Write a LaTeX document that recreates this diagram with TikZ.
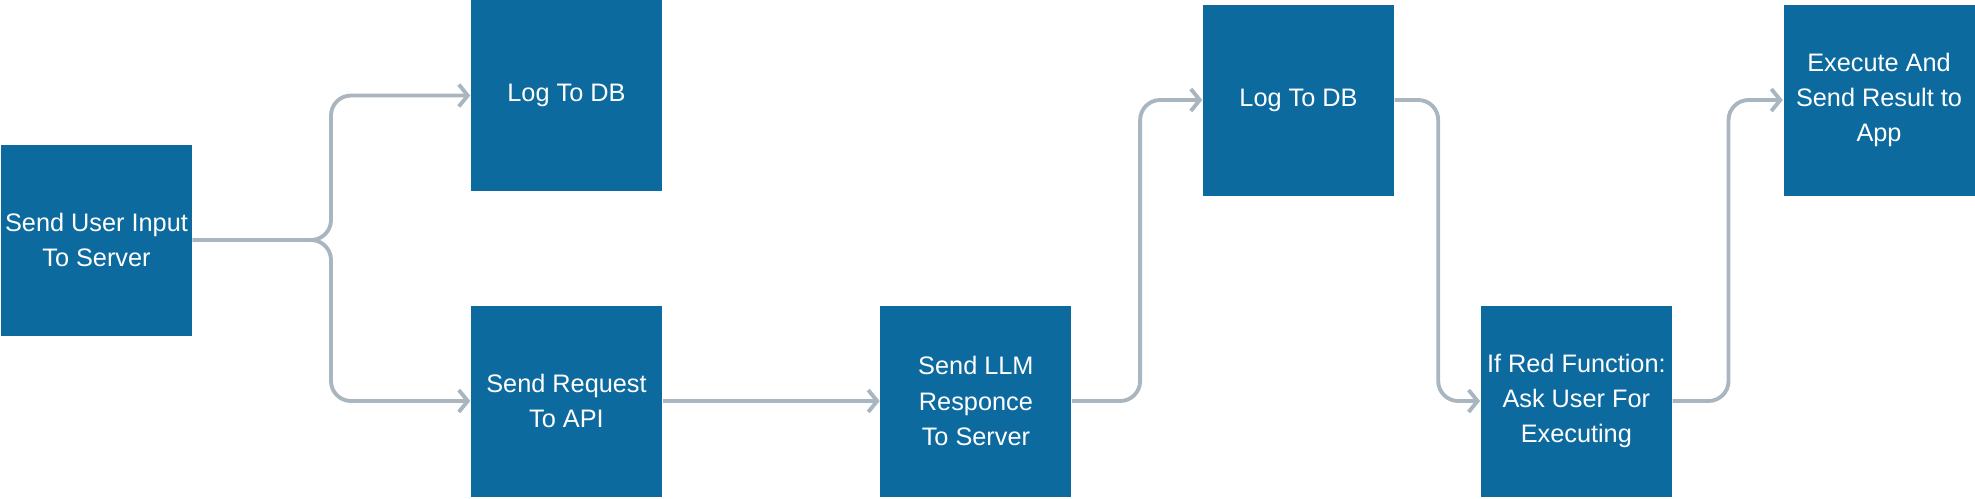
\documentclass[tikz,border=0pt]{standalone}
\usepackage{fontspec}
\setmainfont{Liberation Sans}
\usepackage{xcolor}
\usetikzlibrary{positioning,arrows.meta}
\definecolor{boxblue}{HTML}{0C6A9F}
\definecolor{linegray}{HTML}{A9B6BF}
\begin{document}
\begin{tikzpicture}[
    box/.style={fill=boxblue,text=white,minimum width=1.91cm,minimum height=1.91cm,inner sep=0pt,align=center,font=\fontsize{7.2}{10}\selectfont},
    conn/.style={draw=linegray,line width=1.1pt,rounded corners=0.2cm,-{Straight Barb[length=0.9mm,width=2.2mm]}}]
            \useasboundingbox (0,0) rectangle (19.75,4.98);
            \node[box] (input) at (0.965,2.58) {Send User Input\\To Server};
            \node[box] (log1) at (5.665,4.025) {Log To DB};
            \node[box] (req) at (5.665,0.97) {Send Request\\To API};
            \node[box,right=2.17cm of req] (llm) {Send LLM\\Responce\\To Server};
            \node[box] (log2) at (12.985,3.98) {Log To DB};
            \node[box,right=4.08cm of llm] (red) {If Red Function:\\Ask User For\\Executing};
            \node[box] (exec) at (18.79,3.98) {Execute And\\Send Result to\\App};
            \coordinate (fork) at (3.31,2.58);
            \draw[conn] (input.east) -- (fork) |- (log1.west);
            \draw[conn] (input.east) -- (fork) |- (req.west);
            \draw[conn] (req) -- (llm);
            \draw[conn] (llm.east) -- ++(0.68,0) |- (log2.west);
            \draw[conn] (log2.east) -- ++(0.435,0) |- (red.west);
            \draw[conn] (red.east) -- ++(0.56,0) |- (exec.west);
        \end{tikzpicture}
\end{document}
